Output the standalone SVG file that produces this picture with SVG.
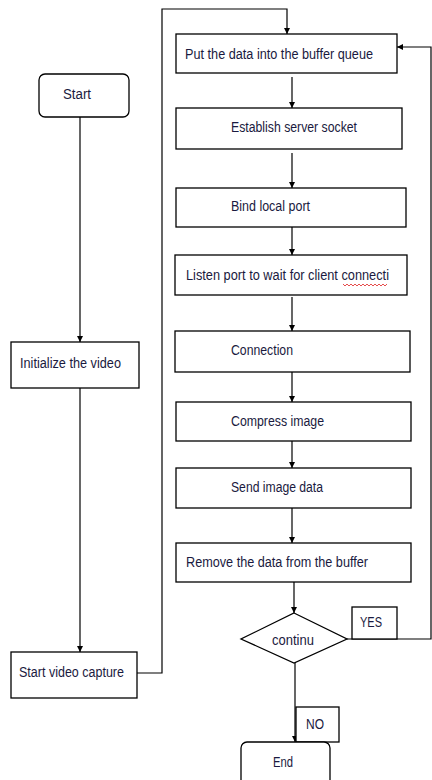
<svg xmlns="http://www.w3.org/2000/svg" width="432" height="780" viewBox="0 0 432 780">
<style>
.box{fill:#fff;stroke:#000;stroke-width:1.3}
.t{font-family:"Liberation Sans",Arial,sans-serif;font-size:14px;fill:#1a1a40}
.c{fill:none;stroke:#000;stroke-width:1.2}
.sq{fill:none;stroke:#e02020;stroke-width:0.8}
</style>
<defs>
<marker id="ah" viewBox="0 0 10 10" refX="10" refY="5" markerWidth="6" markerHeight="7" markerUnits="userSpaceOnUse" orient="auto">
<path d="M0,0 L10,5 L0,10 Z" fill="#000"/>
</marker>
</defs>
<rect width="432" height="780" fill="#fff"/>
<g id="connectors">
<path class="c" d="M80,117 V342" marker-end="url(#ah)"/>
<path class="c" d="M80,388 V652" marker-end="url(#ah)"/>
<path class="c" d="M137,673 H162 V9 H287 V34" marker-end="url(#ah)"/>
<path class="c" d="M292,77 V108" marker-end="url(#ah)"/>
<path class="c" d="M292,153 V188" marker-end="url(#ah)"/>
<path class="c" d="M292,227 V255" marker-end="url(#ah)"/>
<path class="c" d="M292,297 V331" marker-end="url(#ah)"/>
<path class="c" d="M292,372 V402" marker-end="url(#ah)"/>
<path class="c" d="M292,441 V468" marker-end="url(#ah)"/>
<path class="c" d="M292,508 V543" marker-end="url(#ah)"/>
<path class="c" d="M294,582 V613" marker-end="url(#ah)"/>
<path class="c" d="M295,663 V742" marker-end="url(#ah)"/>
<path class="c" d="M347,639 H431 V47 H397" marker-end="url(#ah)"/>
</g>
<g id="start"><rect class="box" x="39" y="74" width="90" height="43" rx="6"/><text class="t" x="63" y="99" textLength="28" lengthAdjust="spacingAndGlyphs">Start</text></g>
<g id="init"><rect class="box" x="11" y="342" width="128" height="46"/><text class="t" x="20" y="368" textLength="101" lengthAdjust="spacingAndGlyphs">Initialize the video</text></g>
<g id="capture"><rect class="box" x="11" y="652" width="126" height="46"/><text class="t" x="19" y="677" textLength="105" lengthAdjust="spacingAndGlyphs">Start video capture</text></g>
<g id="put"><rect class="box" x="176" y="34" width="221" height="39"/><text class="t" x="185" y="59" textLength="188" lengthAdjust="spacingAndGlyphs">Put the data into the buffer queue</text></g>
<g id="establish"><rect class="box" x="176" y="108" width="226" height="41"/><text class="t" x="231" y="132" textLength="126" lengthAdjust="spacingAndGlyphs">Establish server socket</text></g>
<g id="bind"><rect class="box" x="176" y="188" width="230" height="39"/><text class="t" x="231" y="211" textLength="79" lengthAdjust="spacingAndGlyphs">Bind local port</text></g>
<g id="listen"><rect class="box" x="175" y="255" width="232" height="40"/><text class="t" x="186" y="280" textLength="203" lengthAdjust="spacingAndGlyphs">Listen port to wait for client connecti</text><path class="sq" d="M343,284 l2,2 l2,-2 l2,2 l2,-2 l2,2 l2,-2 l2,2 l2,-2 l2,2 l2,-2 l2,2 l2,-2 l2,2 l2,-2 l2,2 l2,-2 l2,2 l2,-2 l2,2 l2,-2 l2,2 l2,-2"/></g>
<g id="connection"><rect class="box" x="175" y="331" width="235" height="41"/><text class="t" x="231" y="355" textLength="62" lengthAdjust="spacingAndGlyphs">Connection</text></g>
<g id="compress"><rect class="box" x="176" y="402" width="235" height="39"/><text class="t" x="231" y="426" textLength="93" lengthAdjust="spacingAndGlyphs">Compress image</text></g>
<g id="send"><rect class="box" x="176" y="468" width="235" height="40"/><text class="t" x="231" y="492" textLength="92" lengthAdjust="spacingAndGlyphs">Send image data</text></g>
<g id="remove"><rect class="box" x="176" y="543" width="235" height="39"/><text class="t" x="186" y="567" textLength="182" lengthAdjust="spacingAndGlyphs">Remove the data from the buffer</text></g>
<g id="continu"><polygon class="box" points="294,613 347,639 294,663 241,639"/><text class="t" x="272" y="645" textLength="42" lengthAdjust="spacingAndGlyphs">continu</text></g>
<g id="yes"><rect class="box" x="352" y="607" width="45" height="32"/><text class="t" x="360" y="627" textLength="22" lengthAdjust="spacingAndGlyphs">YES</text></g>
<g id="no"><rect class="box" x="296" y="707" width="43" height="35"/><text class="t" x="306" y="729" textLength="18" lengthAdjust="spacingAndGlyphs">NO</text></g>
<g id="end"><rect class="box" x="241" y="742" width="89" height="44" rx="6"/><text class="t" x="273" y="767" textLength="20" lengthAdjust="spacingAndGlyphs">End</text></g>
</svg>
